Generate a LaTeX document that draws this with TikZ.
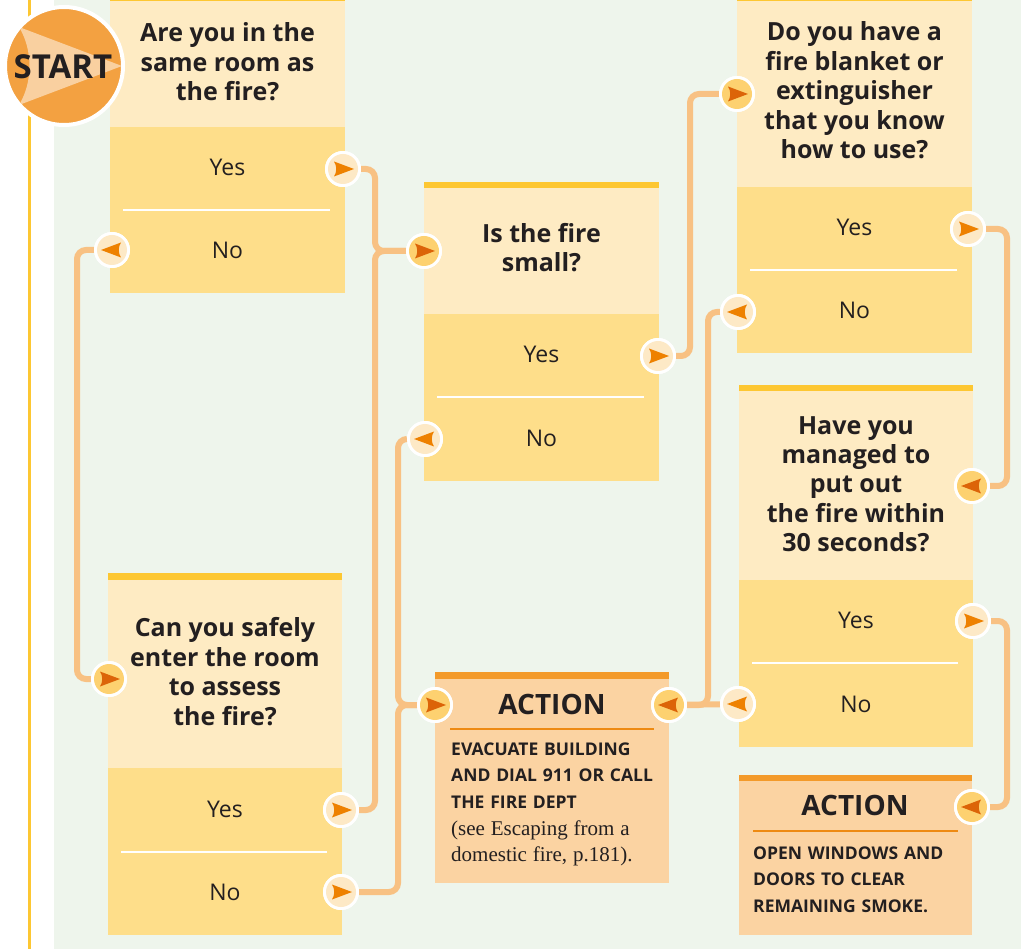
\documentclass[tikz,border=0pt]{standalone}
\usepackage{fontspec}
\setmainfont{Open Sans}
\newfontfamily\gserif{Liberation Serif}
\definecolor{bggreen}{HTML}{EEF5EC}
\definecolor{qlight}{HTML}{FEEBC3}
\definecolor{ansyel}{HTML}{FEDE8A}
\definecolor{topyel}{HTML}{FDC732}
\definecolor{actfill}{HTML}{FBD3A2}
\definecolor{acttop}{HTML}{F39A2A}
\definecolor{actsep}{HTML}{EE8A12}
\definecolor{conncol}{HTML}{F8C183}
\definecolor{outfill}{HTML}{FDE9C6}
\definecolor{infill}{HTML}{FDD170}
\definecolor{outarr}{HTML}{EE8100}
\definecolor{inarr}{HTML}{DC6408}
\definecolor{startor}{HTML}{F3A141}
\definecolor{startlt}{HTML}{F9D0A0}
\definecolor{txt}{HTML}{231F20}
\newcommand\arrw[3]{\fill[#3,shift={(#1.center)},xscale=#2] (11,0) -- (-9,-7.5) .. controls (-6,-3) and (-6,3) .. (-9,7.5) -- cycle;}
\newcommand\qbox[6]{%
  \fill[qlight] (#1,#3) rectangle (#2,#4);
  \fill[ansyel] (#1,#4) rectangle (#2,#5);
  \draw[white,line width=2pt] (#1+13,#6) -- (#2-15,#6);}
\begin{document}
\begin{tikzpicture}[x=1pt,y=-1pt,
  qtext/.style={font=\bfseries\fontsize{25}{29.5}\selectfont,align=center,text=txt,anchor=base,inner sep=0pt},
  anstext/.style={font=\fontsize{23}{27}\selectfont,text=txt,anchor=base,inner sep=0pt},
  acttitle/.style={font=\bfseries\fontsize{28}{32}\selectfont,text=txt,anchor=base,inner sep=0pt},
  actbody/.style={font=\bfseries\fontsize{17.5}{26.7}\selectfont,text=txt,anchor=base west,inner sep=0pt,align=left,text width=225pt},
  outc/.style={circle,fill=outfill,draw=white,line width=3pt,minimum size=33pt,inner sep=0pt},
  inc/.style={circle,fill=infill,draw=white,line width=3pt,minimum size=33pt,inner sep=0pt},
  conn/.style={draw=conncol,line width=6pt,rounded corners=9pt}]
\useasboundingbox (0,0) rectangle (1021,949);
% background
\fill[white] (0,0) rectangle (1021,949);
\fill[bggreen] (54,0) rectangle (1021,949);
\fill[topyel] (28,0) rectangle (31,949);
% question boxes
\qbox{110}{345}{0}{127}{293}{210}
\fill[topyel] (110,0) rectangle (345,1.5);
\qbox{424}{659}{188}{314}{481}{397}
\fill[topyel] (424,182) rectangle (659,188);
\qbox{737}{972}{0}{187}{353}{270}
\fill[topyel] (737,0) rectangle (972,1.5);
\qbox{739}{973}{391}{580}{747}{663}
\fill[topyel] (739,385) rectangle (973,391);
\qbox{108}{342}{580}{768}{935}{852}
\fill[topyel] (108,573) rectangle (342,580);
% action boxes
\fill[actfill] (435,679) rectangle (669,883);
\fill[acttop] (435,672) rectangle (669,679);
\draw[actsep,line width=2.5pt] (450,729) -- (654,729);
\fill[actfill] (739,781) rectangle (972,935);
\fill[acttop] (739,775) rectangle (972,781);
\draw[actsep,line width=2.5pt] (753,831) -- (958,831);
% circles (nodes)
\node[outc] (b1y) at (343,169) {};
\node[outc] (b1n) at (112,250) {};
\node[outc] (b2y) at (658,356) {};
\node[outc] (b2n) at (425,439) {};
\node[outc] (b3y) at (968,229) {};
\node[outc] (b3n) at (738,312) {};
\node[outc] (b4y) at (973,621) {};
\node[outc] (b4n) at (738,704) {};
\node[outc] (b5y) at (341,810) {};
\node[outc] (b5n) at (341,892) {};
\node[inc] (b2in) at (424,251) {};
\node[inc] (b3in) at (737,94) {};
\node[inc] (b4in) at (972,486) {};
\node[inc] (b5in) at (109,679) {};
\node[inc] (a1in) at (435,705) {};
\node[inc] (a1out) at (669,705) {};
\node[inc] (a2in) at (972,807) {};
% junction coordinates
\coordinate (j1) at (375,251);
\coordinate (j2) at (398,705);
\coordinate (j3) at (708,705);
\coordinate (k1) at (77,465);
\coordinate (k2) at (690,225);
\coordinate (k3) at (1007,360);
\coordinate (k4) at (1007,710);
% connectors
\path[conn] (b1y) -| (j1) -- (b2in);
\path[conn] (b5y) -| (j1) -- (b2in);
\path[conn] (b1n) -| (k1) |- (b5in);
\path[conn] (b2y) -| (k2) |- (b3in);
\path[conn] (b2n) -| (j2) -- (a1in);
\path[conn] (b5n) -| (j2) -- (a1in);
\path[conn] (b3n) -| (j3) -- (a1out);
\path[conn] (b4n) -- (a1out);
\path[conn] (b3y) -| (k3) |- (b4in);
\path[conn] (b4y) -| (k4) |- (a2in);
% redraw circles above connectors
\foreach \n in {b1y,b1n,b2y,b2n,b3y,b3n,b4y,b4n,b5y,b5n}{\fill[white] (\n.center) circle (18); \fill[outfill] (\n.center) circle (15);}
\foreach \n in {b2in,b3in,b4in,b5in,a1in,a1out,a2in}{\fill[white] (\n.center) circle (18); \fill[infill] (\n.center) circle (15);}
% arrows
\arrw{b1y}{1}{outarr}
\arrw{b1n}{-1}{outarr}
\arrw{b2y}{1}{outarr}
\arrw{b2n}{-1}{outarr}
\arrw{b3y}{1}{outarr}
\arrw{b3n}{-1}{outarr}
\arrw{b4y}{1}{outarr}
\arrw{b4n}{-1}{outarr}
\arrw{b5y}{1}{outarr}
\arrw{b5n}{1}{outarr}
\arrw{b2in}{1}{inarr}
\arrw{b3in}{1}{inarr}
\arrw{b4in}{-1}{inarr}
\arrw{b5in}{1}{inarr}
\arrw{a1in}{1}{inarr}
\arrw{a1out}{-1}{inarr}
\arrw{a2in}{-1}{inarr}
% question texts (anchor base = last line baseline)
\node[qtext] (q1) at (227.5,101) {Are you in the\\same room as\\the fire?};
\node[qtext] (q2) at (541.5,272) {Is the fire\\small?};
\node[qtext] (q3) at (854.5,159) {Do you have a\\fire blanket or\\extinguisher\\that you know\\how to use?};
\node[qtext] (q4) at (856,552) {Have you\\managed to\\put out\\the fire within\\30 seconds?};
\node[qtext] (q5) at (225,725) {Can you safely\\enter the room\\to assess\\the fire?};
% answers
\node[anstext] (y1) at (227.5,176) {Yes};
\node[anstext] (n1) at (227.5,259) {No};
\node[anstext] (y2) at (541.5,363) {Yes};
\node[anstext] (n2) at (541.5,447) {No};
\node[anstext] (y3) at (854.5,236) {Yes};
\node[anstext] (n3) at (854.5,319) {No};
\node[anstext] (y4) at (856,628) {Yes};
\node[anstext] (n4) at (856,712) {No};
\node[anstext] (y5) at (225,817) {Yes};
\node[anstext] (n5) at (225,900) {No};
% actions
\node[acttitle] (at1) at (552,714) {ACTION};
\node[actbody] (ab1) at (451,755) {EVACUATE BUILDING\\AND DIAL 911 OR CALL\\THE FIRE DEPT\\{\gserif\mdseries\fontsize{21}{26.7}\selectfont (see Escaping from a\\domestic fire, p.181).}};
\node[acttitle] (at2) at (855,815) {ACTION};
\node[actbody] (ab2) at (753,859) {OPEN WINDOWS AND\\DOORS TO CLEAR\\REMAINING SMOKE.};
% start
\node[circle,fill=startor,draw=white,line width=4pt,minimum size=118pt,inner sep=0pt] (startc) at (64,66) {};
\begin{scope}
\clip (64,66) circle (57);
\fill[startlt] (19,27) .. controls (33,50) and (33,82) .. (19,105) -- (122,66) -- cycle;
\end{scope}
\node[font=\bfseries\fontsize{33}{36}\selectfont,text=txt,inner sep=0pt] (starttxt) at (63,67) {START};
\end{tikzpicture}
\end{document}
